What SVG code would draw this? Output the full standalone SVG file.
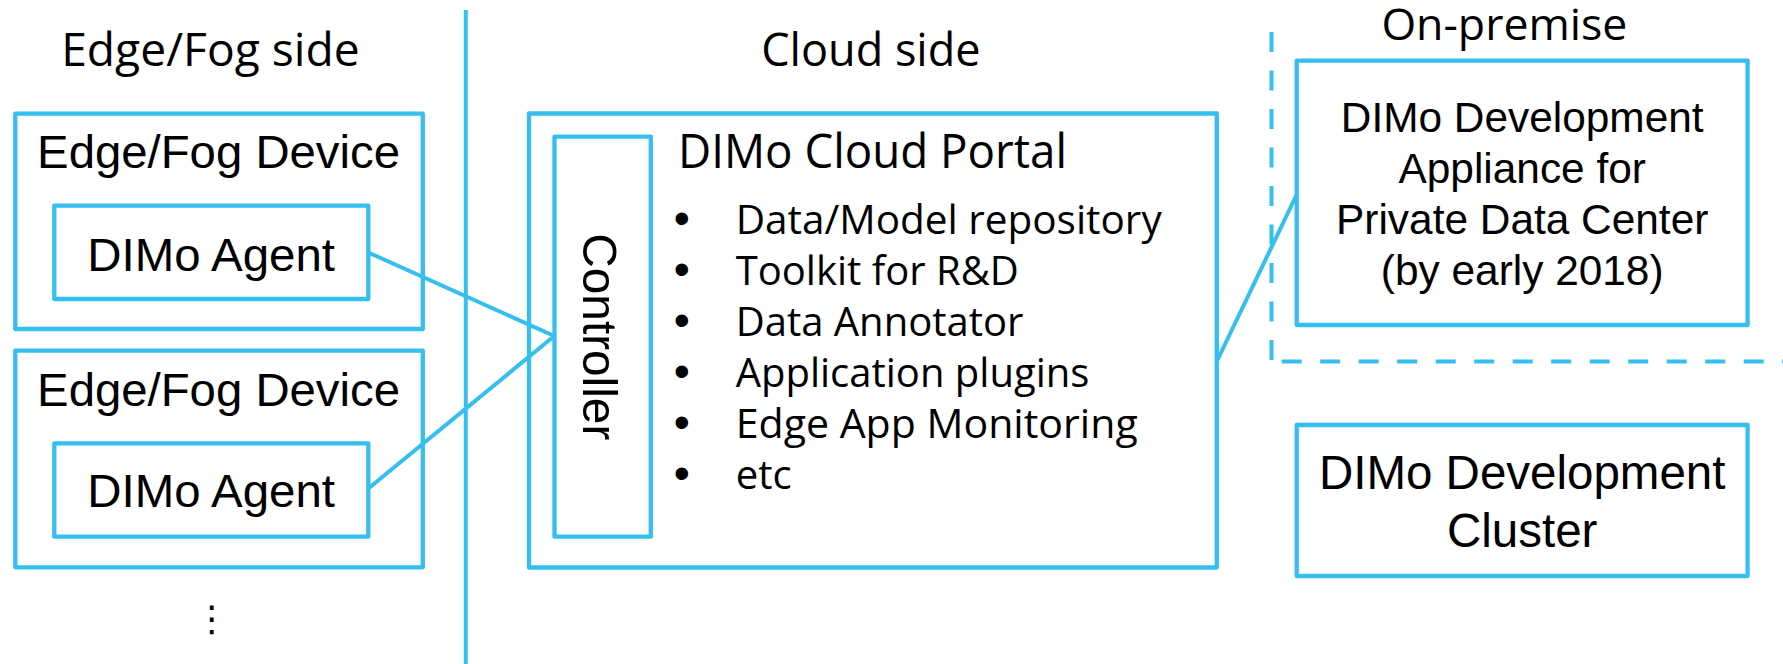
<svg xmlns="http://www.w3.org/2000/svg" width="1783" height="664" viewBox="0 0 1783 664">
<style>
.box{fill:none;stroke:#35BFEF;stroke-width:4.3;stroke-linejoin:round}
.ln{fill:none;stroke:#35BFEF;stroke-width:4}
.dash{fill:none;stroke:#35BFEF;stroke-width:4;stroke-dasharray:20 18.5}
.seg{font-family:"Open Sans","Noto Sans",sans-serif;fill:#000}
.ari{font-family:"Liberation Sans",Arial,sans-serif;fill:#000}
.bul{font-family:"Liberation Sans",Arial,sans-serif;font-size:46px;fill:#000;text-anchor:middle}
</style>
<rect width="1783" height="664" fill="#fff"/>
<g id="labels">
<text class="seg" x="61.2" y="65.7" font-size="46" textLength="298.5" lengthAdjust="spacingAndGlyphs">Edge/Fog side</text>
<text class="seg" x="761.2" y="65.7" font-size="45.5" textLength="219.4" lengthAdjust="spacingAndGlyphs">Cloud side</text>
<text class="seg" x="1381.4" y="40" font-size="44" textLength="246" lengthAdjust="spacingAndGlyphs">On-premise</text>
</g>
<g id="dividers">
<line class="ln" x1="465.8" y1="10" x2="465.8" y2="664"/>
<line class="dash" x1="1271.5" y1="32" x2="1271.5" y2="360"/>
<line class="dash" x1="1281.7" y1="361.5" x2="1783" y2="361.5"/>
</g>
<g id="device1">
<rect class="box" x="15.3" y="113.7" width="407.5" height="215.3"/>
<text class="ari" x="37.1" y="168.3" font-size="46.5" textLength="362.9" lengthAdjust="spacingAndGlyphs">Edge/Fog Device</text>
</g>
<g id="agent1">
<rect class="box" x="54.3" y="205.7" width="314" height="93.3"/>
<text class="ari" x="87.3" y="270.7" font-size="46.5" textLength="247.6" lengthAdjust="spacingAndGlyphs">DIMo Agent</text>
</g>
<g id="device2">
<rect class="box" x="15.3" y="350.7" width="407.5" height="216.6"/>
<text class="ari" x="37.1" y="406.2" font-size="46.5" textLength="362.9" lengthAdjust="spacingAndGlyphs">Edge/Fog Device</text>
</g>
<g id="agent2">
<rect class="box" x="54.3" y="443.3" width="314" height="93.4"/>
<text class="ari" x="87.3" y="507" font-size="46.5" textLength="247.6" lengthAdjust="spacingAndGlyphs">DIMo Agent</text>
</g>
<g id="more">
<text x="211.7" y="631" font-family="'DejaVu Sans',sans-serif" font-size="36" text-anchor="middle" fill="#000">⋮</text>
</g>
<g id="portal">
<rect class="box" x="529" y="113.5" width="687.8" height="454"/>
<text class="seg" x="678" y="168.3" font-size="47" textLength="389" lengthAdjust="spacingAndGlyphs">DIMo Cloud Portal</text>
<g class="seg" font-size="40">
<text class="bul" x="681.7" y="233.5">•</text><text x="735.7" y="233.5" textLength="426" lengthAdjust="spacingAndGlyphs">Data/Model repository</text>
<text class="bul" x="681.7" y="284.5">•</text><text x="735.7" y="284.5">Toolkit for R&amp;D</text>
<text class="bul" x="681.7" y="335.5">•</text><text x="735.7" y="335.5">Data Annotator</text>
<text class="bul" x="681.7" y="386.8">•</text><text x="735.7" y="386.8">Application plugins</text>
<text class="bul" x="681.7" y="438">•</text><text x="735.7" y="438" textLength="402" lengthAdjust="spacingAndGlyphs">Edge App Monitoring</text>
<text class="bul" x="681.7" y="488.5">•</text><text x="735.7" y="488.5">etc</text>
</g>
</g>
<g id="controller">
<rect class="box" x="554.5" y="136.7" width="96.3" height="400"/>
<text class="ari" font-size="49" transform="translate(583.3,233.3) rotate(90)" textLength="207" lengthAdjust="spacingAndGlyphs">Controller</text>
</g>
<g id="appliance">
<rect class="box" x="1296.7" y="60.7" width="450.9" height="264.3"/>
<g class="ari" font-size="42.4" text-anchor="middle">
<text x="1522.2" y="131.7">DIMo Development</text>
<text x="1522.2" y="182.8">Appliance for</text>
<text x="1522.2" y="233.9">Private Data Center</text>
<text x="1522.2" y="285">(by early 2018)</text>
</g>
</g>
<g id="cluster">
<rect class="box" x="1296.7" y="425" width="450.9" height="151"/>
<g class="ari" font-size="47.5" text-anchor="middle">
<text x="1522.2" y="489.3">DIMo Development</text>
<text x="1522.2" y="546.7">Cluster</text>
</g>
</g>
<g id="connectors">
<line class="ln" x1="368.3" y1="252.5" x2="554.3" y2="336"/>
<line class="ln" x1="368.3" y1="488.5" x2="554.3" y2="336"/>
<line class="ln" x1="1217" y1="361" x2="1296.7" y2="194.5"/>
</g>
</svg>
